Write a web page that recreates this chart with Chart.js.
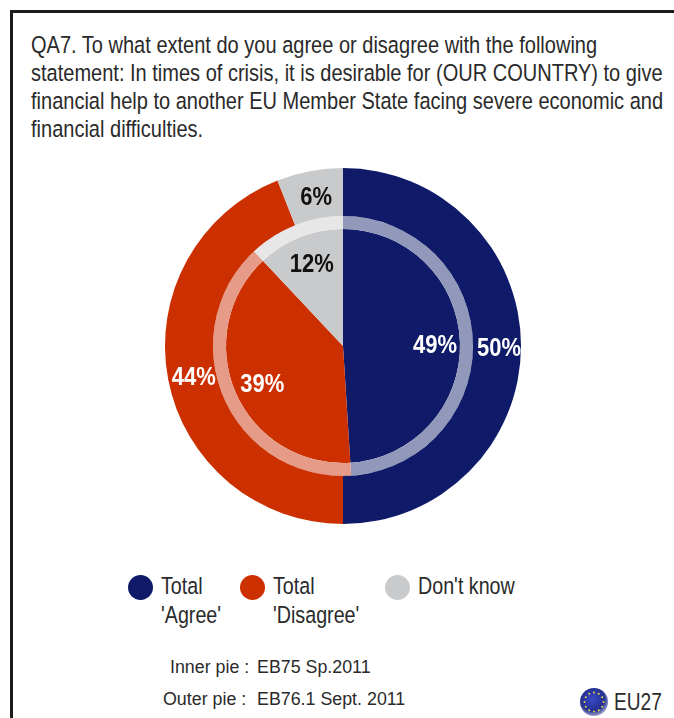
<!DOCTYPE html>
<html>
<head>
<meta charset="utf-8">
<script src="https://cdn.jsdelivr.net/npm/chart.js@4"></script>
<style>
  html, body { margin: 0; padding: 0; background: #fff; }
  body { width: 674px; height: 718px; position: relative; overflow: hidden; font-family: "Liberation Sans", Arial, sans-serif; color: #2a2a2a; }
  #frame { position: absolute; left: 10px; top: 10px; width: 680px; height: 740px; border: 3px solid #1c1c1c; box-sizing: border-box; }
  #title { position: absolute; left: 31px; top: 31px; font-size: 22px; line-height: 25.9px; width: 720px; white-space: nowrap; transform: scale(0.91, 1.08); transform-origin: 0 0; }
  #pie { position: absolute; left: 164.5px; top: 168px; width: 356px; height: 356px; }
  .txt { position: absolute; font-size: 22px; line-height: 27px; white-space: nowrap; transform: scale(0.895, 1.08); transform-origin: 0 0; }
  .small { font-size: 18px; transform: scale(0.99, 1.06); }
  .eu { transform: scale(0.87, 1.08); }
  .dot { position: absolute; width: 25px; height: 25px; border-radius: 50%; }
  #flag { position: absolute; left: 580px; top: 688px; }
</style>
</head>
<body>
<div id="frame"></div>
<div id="title"></div>
<div id="pie"><canvas id="chart" width="356" height="356"></canvas></div>
<div id="legend"></div>
<div class="txt small" style="left:170px;top:653px">Inner pie :</div>
<div class="txt small" style="left:257px;top:653px">EB75 Sp.2011</div>
<div class="txt small" style="left:163px;top:685px">Outer pie :</div>
<div class="txt small" style="left:257px;top:685px">EB76.1 Sept. 2011</div>
<svg id="flag" width="28" height="28" viewBox="0 0 28 28">
  <defs><radialGradient id="g" cx="45%" cy="40%" r="60%"><stop offset="0" stop-color="#3a48c8"/><stop offset="0.7" stop-color="#24308f"/><stop offset="1" stop-color="#9aa0cc"/></radialGradient></defs>
  <circle cx="14" cy="14" r="14" fill="url(#g)"/>
</svg>
<div class="txt eu" style="left:614px;top:687px">EU27</div>

<script>
const titleLines = [
  "QA7. To what extent do you agree or disagree with the following",
  "statement: In times of crisis, it is desirable for (OUR COUNTRY) to give",
  "financial help to another EU Member State facing severe economic and",
  "financial difficulties."
];
const categories = ["Total 'Agree'", "Total 'Disagree'", "Don't know"];
const outerValues = [50, 44, 6];   // EB76.1 Sept. 2011
const innerValues = [49, 39, 12];  // EB75 Sp.2011
const colors = ["#0f1b69", "#cc3000", "#c9cacc"];
const ringColors = ["#9298b9", "#e59b88", "#e7e7e8"];
const labelColors = ["#ffffff", "#ffffff", "#111111"];

document.getElementById("title").innerHTML = titleLines.join("<br>");

// legend, wrapped by hand like the original
const legendItems = [
  { dot: 128, text: 161, lines: ["Total", "'Agree'"] },
  { dot: 240, text: 273, lines: ["Total", "'Disagree'"] },
  { dot: 385, text: 418, lines: ["Don't know"] }
];
const legend = document.getElementById("legend");
legendItems.forEach((item, i) => {
  legend.innerHTML += `<div class="dot" style="left:${item.dot}px;top:575px;background:${colors[i]}"></div>`;
  item.lines.forEach((line, j) => {
    legend.innerHTML += `<div class="txt" style="left:${item.text}px;top:${571 + j * 29}px">${line}</div>`;
  });
});

// twelve stars on the flag
const flag = document.getElementById("flag");
for (let i = 0; i < 12; i++) {
  const a = i * Math.PI / 6;
  const s = document.createElementNS("http://www.w3.org/2000/svg", "circle");
  s.setAttribute("cx", 14 + 9.5 * Math.cos(a));
  s.setAttribute("cy", 14 + 9.5 * Math.sin(a));
  s.setAttribute("r", 1);
  s.setAttribute("fill", "#e8d84a");
  flag.appendChild(s);
}

// percent labels, placed along each slice's middle angle
const sliceLabels = {
  id: "sliceLabels",
  afterDatasetsDraw(chart) {
    const ctx = chart.ctx;
    [[0, 0.5], [2, 0.77]].forEach(([dsIndex, pos]) => {
      const values = chart.data.datasets[dsIndex].data;
      chart.getDatasetMeta(dsIndex).data.forEach((arc, i) => {
        const mid = (arc.startAngle + arc.endAngle) / 2;
        const r = arc.innerRadius + (arc.outerRadius - arc.innerRadius) * pos;
        ctx.save();
        ctx.translate(arc.x + Math.cos(mid) * r + 2, arc.y + Math.sin(mid) * r + 3);
        ctx.scale(1, 1.15);
        ctx.font = "bold 22px 'Liberation Sans', Arial, sans-serif";
        ctx.fillStyle = labelColors[i];
        ctx.textAlign = "center";
        ctx.textBaseline = "middle";
        ctx.fillText(values[i] + "%", 0, 0);
        ctx.restore();
      });
    });
  }
};

new Chart(document.getElementById("chart"), {
  type: "pie",
  data: {
    labels: categories,
    datasets: [
      { label: "Outer pie", data: outerValues, backgroundColor: colors, borderWidth: 0, weight: 48 },
      { label: "Ring", data: innerValues, backgroundColor: ringColors, borderWidth: 0, weight: 13 },
      { label: "Inner pie", data: innerValues, backgroundColor: colors, borderWidth: 0, weight: 117 }
    ]
  },
  options: {
    responsive: false,
    animation: false,
    layout: { padding: 0 },
    plugins: { legend: { display: false }, tooltip: { enabled: false } }
  },
  plugins: [sliceLabels]
});
</script>
</body>
</html>
